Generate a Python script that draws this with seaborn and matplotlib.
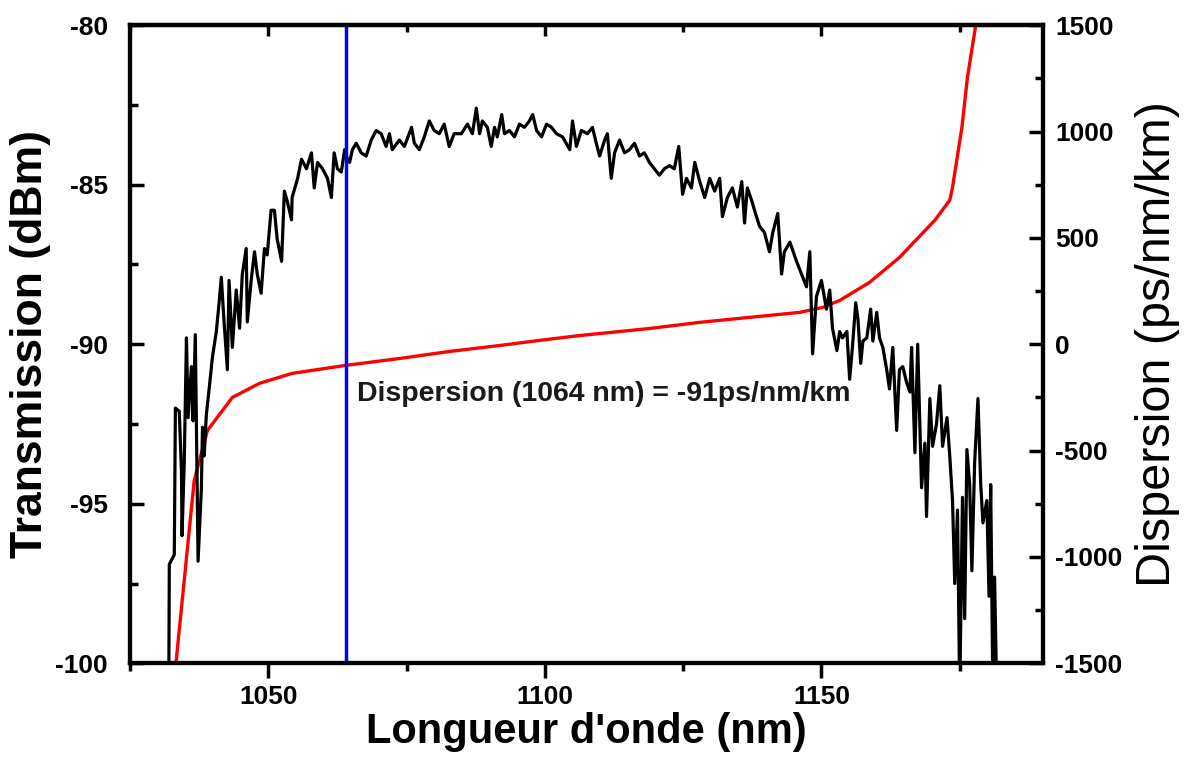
import numpy as np
import pandas as pd
import seaborn as sns
import matplotlib
matplotlib.use("Agg")
import matplotlib.pyplot as plt
from matplotlib.ticker import MultipleLocator

# transmission spectrum (black)
wavelength_nm = [1032.0, 1032.1, 1033.0, 1033.2, 1033.9, 1034.3, 1034.4, 1034.8, 1035.2, 1035.5,
                 1036.1, 1036.4, 1036.8, 1037.0, 1037.3, 1037.9, 1038.1, 1038.4, 1038.8, 1039.3,
                 1039.9, 1040.6, 1041.1, 1041.5, 1042.0, 1042.6, 1042.9, 1043.5, 1044.2, 1044.8,
                 1045.3, 1046.0, 1046.2, 1046.9, 1047.5, 1048.0, 1048.7, 1049.3, 1049.8, 1050.5,
                 1051.1, 1051.6, 1052.4, 1052.9, 1053.4, 1054.2, 1054.3, 1055.3, 1056.0, 1056.9,
                 1057.8, 1058.3, 1058.9, 1059.8, 1060.7, 1061.4, 1061.9, 1062.5, 1063.2, 1063.8,
                 1064.3, 1064.7, 1065.2, 1065.9, 1066.8, 1067.7, 1068.6, 1069.5, 1070.4, 1071.3,
                 1071.9, 1072.4, 1073.7, 1074.6, 1075.9, 1076.4, 1077.3, 1078.2, 1079.1, 1080.0,
                 1080.9, 1081.8, 1082.7, 1083.6, 1084.9, 1086.0, 1086.9, 1087.6, 1088.2, 1088.7,
                 1089.6, 1090.3, 1090.9, 1091.4, 1092.2, 1092.7, 1093.6, 1094.5, 1095.4, 1096.3,
                 1097.2, 1097.8, 1098.5, 1099.4, 1100.3, 1101.2, 1102.1, 1103.2, 1104.5, 1105.0,
                 1105.7, 1106.6, 1107.7, 1108.6, 1109.3, 1109.9, 1110.8, 1111.3, 1112.0, 1112.6,
                 1113.5, 1114.4, 1115.3, 1116.2, 1117.1, 1118.0, 1118.9, 1119.8, 1120.7, 1121.6,
                 1122.5, 1123.4, 1124.2, 1124.9, 1125.6, 1126.5, 1127.1, 1128.0, 1128.9, 1129.8,
                 1130.7, 1131.6, 1132.1, 1133.0, 1133.9, 1134.8, 1135.6, 1136.1, 1136.6, 1137.4,
                 1137.9, 1138.8, 1139.7, 1140.6, 1141.2, 1142.1, 1142.8, 1143.3, 1144.3, 1145.5,
                 1146.4, 1147.3, 1147.9, 1148.4, 1149.1, 1150.0, 1150.9, 1151.5, 1152.0, 1152.8,
                 1153.3, 1153.8, 1154.6, 1155.1, 1155.6, 1156.2, 1156.6, 1157.1, 1157.5, 1158.2,
                 1158.9, 1159.3, 1160.0, 1160.5, 1161.1, 1161.8, 1162.3, 1162.9, 1163.6, 1164.1,
                 1164.7, 1165.4, 1166.0, 1166.3, 1166.9, 1167.4, 1168.1, 1168.7, 1169.0, 1169.6,
                 1170.1, 1170.8, 1171.4, 1171.9, 1172.7, 1173.2, 1173.7, 1174.1, 1174.6, 1175.0,
                 1175.5, 1175.9, 1176.3, 1176.8, 1177.2, 1177.7, 1178.3, 1178.8, 1179.2, 1179.9,
                 1180.3, 1180.6, 1181.0, 1181.3, 1181.7]
transmission_dbm = [-101.0, -96.9, -96.6, -92.0, -92.1, -94.0, -96.0, -93.7, -89.8, -92.3,
                    -90.7, -92.4, -89.7, -92.6, -96.8, -94.5, -92.6, -93.5, -92.2, -91.4,
                    -90.4, -89.6, -88.7, -87.9, -89.3, -90.8, -88.0, -90.1, -88.3, -89.5,
                    -87.8, -87.0, -89.3, -88.0, -87.1, -87.8, -88.4, -87.0, -87.2, -85.8,
                    -85.8, -86.7, -87.4, -85.2, -85.5, -86.1, -85.4, -84.8, -84.2, -84.5,
                    -84.0, -85.1, -84.3, -84.5, -84.8, -85.4, -84.0, -84.5, -84.6, -83.9,
                    -84.2, -84.3, -83.9, -83.7, -84.0, -84.1, -83.6, -83.3, -83.4, -83.8,
                    -83.4, -83.9, -83.6, -83.8, -83.2, -83.7, -83.9, -83.5, -83.0, -83.3,
                    -83.4, -83.1, -83.8, -83.4, -83.4, -83.1, -83.4, -82.6, -83.4, -83.0,
                    -83.2, -83.8, -83.2, -83.5, -82.8, -83.4, -83.3, -83.5, -83.1, -83.2,
                    -83.0, -82.8, -83.3, -83.5, -83.1, -83.2, -83.4, -83.5, -83.9, -83.0,
                    -83.8, -83.3, -83.4, -83.2, -83.7, -84.1, -83.6, -83.4, -84.8, -84.0,
                    -83.6, -84.0, -83.9, -83.7, -84.1, -84.0, -84.3, -84.5, -84.7, -84.5,
                    -84.4, -84.5, -83.8, -85.3, -84.8, -85.1, -84.3, -84.9, -85.4, -84.8,
                    -85.2, -84.8, -86.0, -85.4, -85.1, -85.7, -84.9, -86.2, -85.1, -85.5,
                    -85.8, -86.3, -86.5, -87.1, -86.5, -85.9, -87.8, -87.1, -86.8, -87.4,
                    -87.8, -88.2, -87.1, -90.3, -88.5, -88.0, -88.9, -88.3, -89.5, -90.2,
                    -89.6, -89.8, -89.6, -91.1, -90.1, -88.7, -89.2, -90.6, -89.9, -89.8,
                    -88.9, -89.9, -89.0, -89.8, -90.1, -90.8, -91.4, -90.1, -92.7, -90.8,
                    -90.7, -91.2, -91.5, -90.1, -93.4, -90.0, -94.5, -93.1, -95.4, -91.7,
                    -93.2, -92.5, -91.3, -93.2, -92.3, -93.5, -94.9, -97.5, -95.2, -101.0,
                    -94.8, -98.6, -93.3, -94.4, -97.1, -93.7, -91.7, -94.4, -95.6, -94.9,
                    -97.9, -94.4, -101.0, -97.3, -101.0]

# dispersion curve (red)
disp_wavelength_nm = [1033.3, 1036.6, 1039.0, 1043.5, 1048.4, 1054.3, 1064.1, 1073.7, 1082.7,
                      1091.8, 1099.0, 1106.3, 1118.9, 1128.0, 1146.1, 1150.2, 1153.3, 1158.7,
                      1164.1, 1170.5, 1173.2, 1173.7, 1175.4, 1176.4, 1177.9]
dispersion_ps = [-1500, -641, -405, -250, -184, -137, -99, -67, -34,
                 -6, 18, 41, 74, 103, 150, 173, 206, 291,
                 408, 583, 677, 738, 1020, 1255, 1500]

pump_nm = 1064
note = "Dispersion (1064 nm) = -91ps/nm/km"

trans = pd.DataFrame({"wl": wavelength_nm, "T": transmission_dbm})
disp = pd.DataFrame({"wl": disp_wavelength_nm, "D": dispersion_ps})

sns.set_style("ticks")
plt.rcParams["font.family"] = ["Liberation Sans", "DejaVu Sans"]
plt.rcParams["axes.unicode_minus"] = False
plt.rcParams["text.color"] = "black"
plt.rcParams["axes.labelcolor"] = "black"
plt.rcParams["axes.edgecolor"] = "black"
plt.rcParams["xtick.color"] = "black"
plt.rcParams["ytick.color"] = "black"

fig, ax = plt.subplots(figsize=(11.93, 7.65), dpi=100)
fig.subplots_adjust(left=0.109, right=0.874, top=0.967, bottom=0.133)
ax2 = ax.twinx()

sns.lineplot(data=disp, x="wl", y="D", ax=ax2, color="#ff0000", lw=2.4,
             estimator=None, sort=False)
sns.lineplot(data=trans, x="wl", y="T", ax=ax, color="black", lw=2.3,
             estimator=None, sort=False)
ax.axvline(pump_nm, color="#0000ff", lw=2.5)
ax.text(1066.1, -91.55, note, fontsize=20.5, fontweight="bold", va="center", ha="left",
        color="#1a1a1a")

# black + blue above the red twin curve
ax.set_zorder(ax2.get_zorder() + 1)
ax.patch.set_visible(False)

ax.set_xlim(1025, 1190)
ax.set_ylim(-100, -80)
ax2.set_ylim(-1500, 1500)

ax.xaxis.set_major_locator(MultipleLocator(50))
ax.xaxis.set_minor_locator(MultipleLocator(25))
ax.yaxis.set_major_locator(MultipleLocator(5))
ax.yaxis.set_minor_locator(MultipleLocator(2.5))
ax2.yaxis.set_major_locator(MultipleLocator(500))
ax2.yaxis.set_minor_locator(MultipleLocator(250))

for a in (ax, ax2):
    for s in a.spines.values():
        s.set_linewidth(3)
        s.set_color("black")
        s.set_visible(True)

ax.tick_params(axis="x", which="major", direction="out", length=11, width=2.5, pad=5)
ax.tick_params(axis="x", which="minor", direction="out", length=6, width=2.5)
ax.tick_params(axis="y", which="major", direction="in", length=10, width=2.5, pad=16)
ax.tick_params(axis="y", which="minor", direction="in", length=6, width=2.5)
ax2.tick_params(axis="y", which="major", direction="in", length=10, width=2.5, pad=9)
ax2.tick_params(axis="y", which="minor", direction="in", length=6, width=2.5)

top = ax.secondary_xaxis("top")
top.xaxis.set_major_locator(MultipleLocator(50))
top.xaxis.set_minor_locator(MultipleLocator(25))
top.tick_params(axis="x", which="major", direction="in", length=8, width=2.5, labeltop=False)
top.tick_params(axis="x", which="minor", direction="in", length=5, width=2.5)
top.spines["top"].set_linewidth(3)
top.spines["top"].set_color("black")

for lab in ax.get_xticklabels() + ax.get_yticklabels():
    lab.set_fontweight("bold")
    lab.set_fontsize(19)
for lab in ax2.get_yticklabels():
    lab.set_fontweight("bold")
    lab.set_fontsize(19)

ax.set_xlabel("Longueur d'onde (nm)", fontsize=30, fontweight="bold", labelpad=2)
ax.set_ylabel("Transmission (dBm)", fontsize=32, fontweight="bold", labelpad=3)
ax2.set_ylabel("Dispersion (ps/nm/km)", fontsize=35, labelpad=9)

fig.savefig("out.png", dpi=100)
